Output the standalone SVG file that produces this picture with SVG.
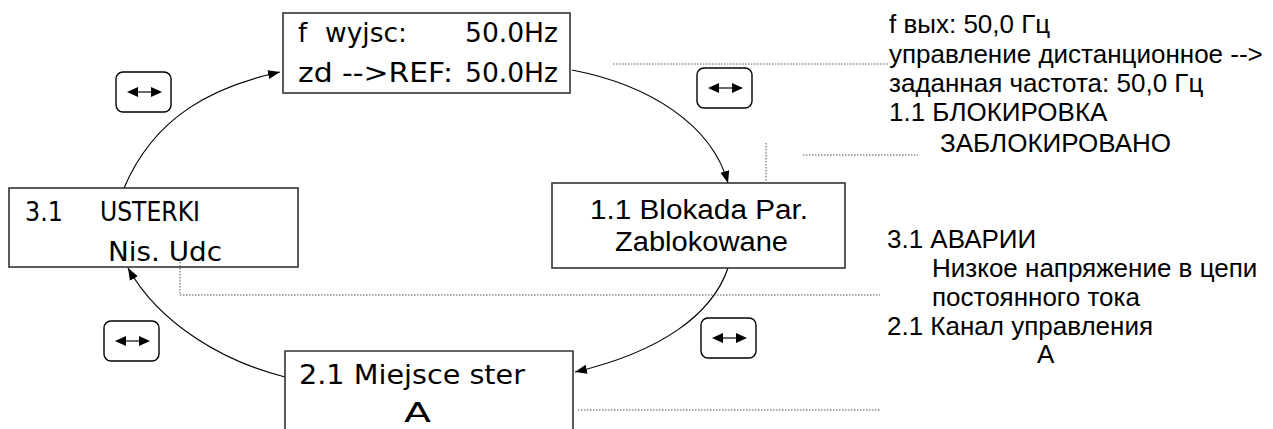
<svg xmlns="http://www.w3.org/2000/svg" xmlns:xlink="http://www.w3.org/1999/xlink" width="1273" height="429" viewBox="0 0 1273 429">
<style>
.box{fill:#fff;stroke:#333;stroke-width:1.6}
.lcd{font-family:"DejaVu Sans",sans-serif;font-size:26px;fill:#000}
.ar{font-family:"Liberation Sans",Arial,sans-serif;font-size:27px;fill:#000}
.note{font-family:"Liberation Sans",Arial,sans-serif;font-size:26px;fill:#000}
.conn{fill:none;stroke:#000;stroke-width:1.2}
.dot{fill:none;stroke:#555;stroke-width:1;stroke-dasharray:1.5 1.5}
.btn{fill:#fff;stroke:#000;stroke-width:1.4}
</style>
<defs>
<marker id="ah" markerUnits="userSpaceOnUse" markerWidth="13" markerHeight="10" refX="12" refY="5" orient="auto">
<path d="M0,0.5 L12,5 L0,9.5 z" fill="#000"/>
</marker>
<g id="btnicon">
<rect class="btn" x="0" y="0" width="55" height="40" rx="7"/>
<line x1="18" y1="20" x2="38" y2="20" stroke="#444" stroke-width="1.6"/>
<polygon points="11,20 22,15 22,25" fill="#000"/>
<polygon points="46,20 35,15 35,25" fill="#000"/>
</g>
</defs>

<g id="connectors">
<path class="conn" d="M124,188 C155,115 215,86 280,72" marker-end="url(#ah)"/>
<path class="conn" d="M572,70 C650,85 712,125 728,183" marker-end="url(#ah)"/>
<path class="conn" d="M728,268 C712,315 660,352 575,372" marker-end="url(#ah)"/>
<path class="conn" d="M285,377 C225,362 160,325 128,268" marker-end="url(#ah)"/>
</g>

<g id="node-top">
<rect class="box" x="283" y="13" width="287" height="80"/>
<text class="lcd" x="298" y="42">f</text>
<text class="lcd" x="325" y="42" textLength="82" lengthAdjust="spacingAndGlyphs">wyjsc:</text>
<text class="lcd" x="465" y="42" textLength="93" lengthAdjust="spacingAndGlyphs">50.0Hz</text>
<text class="lcd" x="298" y="82" textLength="155" lengthAdjust="spacingAndGlyphs">zd --&gt;REF:</text>
<text class="lcd" x="465" y="82" textLength="93" lengthAdjust="spacingAndGlyphs">50.0Hz</text>
</g>

<g id="node-left">
<rect class="box" x="9" y="188" width="289" height="79"/>
<text class="lcd" x="25" y="221" textLength="38" lengthAdjust="spacingAndGlyphs">3.1</text>
<text class="lcd" x="100" y="221" textLength="100" lengthAdjust="spacingAndGlyphs">USTERKI</text>
<text class="lcd" x="108" y="261" textLength="114" lengthAdjust="spacingAndGlyphs">Nis. Udc</text>
</g>

<g id="node-right">
<rect class="box" x="552" y="183" width="293" height="85"/>
<text class="ar" x="590" y="219" textLength="218" lengthAdjust="spacingAndGlyphs">1.1 Blokada Par.</text>
<text class="ar" x="615" y="251" textLength="173" lengthAdjust="spacingAndGlyphs">Zablokowane</text>
</g>

<g id="node-bottom">
<path class="box" d="M285,432 V351 H573 V432"/>
<text class="lcd" x="299" y="384" textLength="226" lengthAdjust="spacingAndGlyphs">2.1 Miejsce ster</text>
<text class="lcd" x="404" y="422" textLength="27" lengthAdjust="spacingAndGlyphs">A</text>
</g>

<g id="buttons">
<use xlink:href="#btnicon" x="116" y="72"/>
<use xlink:href="#btnicon" x="697" y="68"/>
<use xlink:href="#btnicon" x="104" y="321"/>
<use xlink:href="#btnicon" x="701" y="318"/>
</g>

<g id="leaders">
<path class="dot" d="M613,64 H888"/>
<path class="dot" d="M766,143 V183"/>
<path class="dot" d="M803,155 H918"/>
<path class="dot" d="M180,259 V295 H880"/>
<path class="dot" d="M578,410 H880"/>
</g>

<g id="notes">
<text class="note" x="889" y="33">f вых: 50,0 Гц</text>
<text class="note" x="889" y="63">управление дистанционное --&gt;</text>
<text class="note" x="889" y="92">заданная частота: 50,0 Гц</text>
<text class="note" x="889" y="121">1.1 БЛОКИРОВКА</text>
<text class="note" x="940" y="152">ЗАБЛОКИРОВАНО</text>
<text class="note" x="887" y="248">3.1 АВАРИИ</text>
<text class="note" x="932" y="277">Низкое напряжение в цепи</text>
<text class="note" x="932" y="306">постоянного тока</text>
<text class="note" x="887" y="335">2.1 Канал управления</text>
<text class="note" x="1037" y="363">А</text>
</g>
</svg>
